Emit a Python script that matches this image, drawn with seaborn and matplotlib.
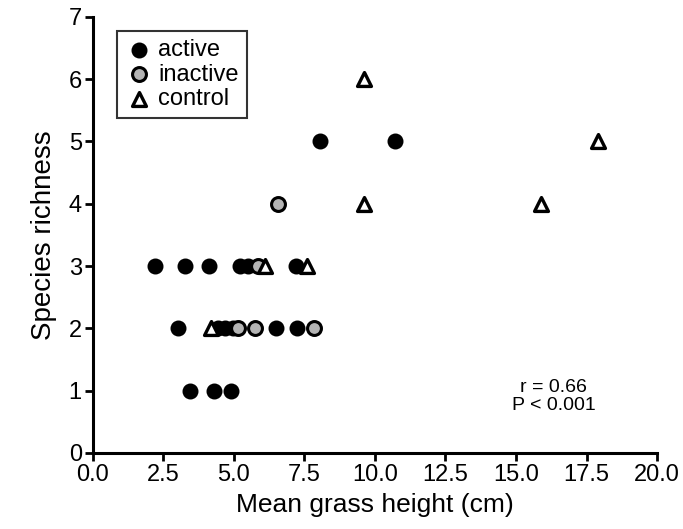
import seaborn as sns
import matplotlib.pyplot as plt
import pandas as pd

# mean grass height (cm) and species richness, per group
active_x = [2.2, 3.25, 4.1, 5.2, 5.5, 7.2, 3.0, 4.45, 4.7, 4.95, 6.5, 7.25, 3.45, 4.3, 4.9, 8.05, 10.7]
active_y = [3, 3, 3, 3, 3, 3, 2, 2, 2, 2, 2, 2, 1, 1, 1, 5, 5]
inactive_x = [5.85, 5.15, 5.75, 7.85, 6.55]
inactive_y = [3, 2, 2, 2, 4]
control_x = [6.1, 7.6, 4.2, 9.6, 15.9, 17.9, 9.6]
control_y = [3, 3, 2, 4, 4, 5, 6]

df = pd.concat([
    pd.DataFrame({'height': active_x, 'richness': active_y, 'group': 'active'}),
    pd.DataFrame({'height': inactive_x, 'richness': inactive_y, 'group': 'inactive'}),
    pd.DataFrame({'height': control_x, 'richness': control_y, 'group': 'control'}),
])

sns.set_style("ticks")
plt.rcParams['font.family'] = ['Liberation Sans', 'DejaVu Sans']
plt.rcParams['text.color'] = 'black'
plt.rcParams['axes.labelcolor'] = 'black'

fig = plt.figure(figsize=(6.83, 5.29), dpi=100)
ax = fig.add_axes([0.136, 0.144, 0.826, 0.824])

styles = {
    'active': dict(marker='o', color='black', edgecolor='black', s=100, linewidth=1.5),
    'inactive': dict(marker='o', color='#b4b4b4', edgecolor='black', s=100, linewidth=2.2),
    'control': dict(marker='^', color='white', edgecolor='black', s=100, linewidth=2.4),
}
for g in ['active', 'inactive', 'control']:
    sub = df[df['group'] == g]
    sns.scatterplot(data=sub, x='height', y='richness', ax=ax, label=g,
                    zorder=3, clip_on=False, **styles[g])

ax.set_xlim(0, 20)
ax.set_ylim(0, 7)
ax.set_xticks([0, 2.5, 5, 7.5, 10, 12.5, 15, 17.5, 20])
ax.set_xticklabels(['0.0', '2.5', '5.0', '7.5', '10.0', '12.5', '15.0', '17.5', '20.0'])
ax.set_yticks(range(0, 8))
ax.set_xlabel('Mean grass height (cm)', fontsize=19, labelpad=5)
ax.set_ylabel('Species richness', fontsize=20, labelpad=8)
ax.tick_params(axis='both', labelsize=17, width=2, length=6, color='black', labelcolor='black', pad=2)
for side in ['top', 'right']:
    ax.spines[side].set_visible(False)
for side in ['left', 'bottom']:
    ax.spines[side].set_linewidth(2.2)
    ax.spines[side].set_color('black')

leg = ax.legend(loc='upper left', bbox_to_anchor=(0.042, 0.968), fontsize=17, frameon=True,
                fancybox=False, handletextpad=0.2, borderpad=0.35, labelspacing=0.1,
                handlelength=1.2, borderaxespad=0)
leg.get_frame().set_edgecolor('black')
leg.get_frame().set_linewidth(1.5)

ax.text(0.817, 0.13, 'r = 0.66\nP < 0.001', transform=ax.transAxes, ha='center', va='center',
        fontsize=14, linespacing=1.1)

fig.savefig('out.png', dpi=100)
